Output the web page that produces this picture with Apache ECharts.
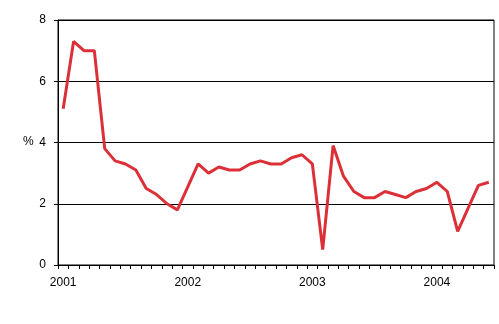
<!DOCTYPE html>
<html><head><meta charset="utf-8">
<script src="https://cdn.jsdelivr.net/npm/echarts@6/dist/echarts.min.js"></script>
<style>html,body{margin:0;padding:0;background:#fff}#c{width:499px;height:324px}</style>
</head><body><div id="c"></div>
<script>
const years = ['2001','2002','2003','2004'];
const months = 42;
const categories = [];
for (let i = 0; i < months; i++) categories.push(i % 12 === 0 ? years[i / 12] : '');
const values = [5.1,7.3,7.0,7.0,3.8,3.4,3.3,3.1,2.5,2.3,2.0,1.8,
  2.55,3.3,3.0,3.2,3.1,3.1,3.3,3.4,3.3,3.3,3.5,3.6,
  3.3,0.5,3.9,2.9,2.4,2.2,2.2,2.4,2.3,2.2,2.4,2.5,
  2.7,2.4,1.1,1.85,2.6,2.7];
const yTicks = [0,2,4,6,8];
const yLabel = '%';

const chart = echarts.init(document.getElementById('c'), null, {renderer:'canvas'});
chart.setOption({
  animation:false,
  grid:{left:58,right:5,top:20,bottom:59,show:true,borderColor:'#000',borderWidth:1,backgroundColor:'transparent'},
  xAxis:{type:'category',data:categories,boundaryGap:true,
    axisLine:{lineStyle:{color:'#000',width:1}},
    axisTick:{show:true,interval:0,length:4,lineStyle:{color:'#000'}},
    axisLabel:{interval:0,margin:12,color:'#000',fontSize:12,fontFamily:'Liberation Sans, Arial'},
    splitLine:{show:false}},
  yAxis:{type:'value',min:yTicks[0],max:yTicks[yTicks.length-1],interval:2,
    axisLine:{show:true,lineStyle:{color:'#000',width:1}},
    axisTick:{show:true,length:4,lineStyle:{color:'#000'}},
    axisLabel:{margin:12,color:'#000',fontSize:12,fontFamily:'Liberation Sans, Arial'},
    splitLine:{show:true,lineStyle:{color:'#000',width:1}}},
  graphic:[{type:'text',left:23,top:136,style:{text:yLabel,fill:'#000',font:'12px Liberation Sans, Arial'}}],
  series:[{type:'line',data:values,symbol:'none',smooth:false,
    lineStyle:{color:'#dc3038',width:3}}]
});
</script></body></html>
